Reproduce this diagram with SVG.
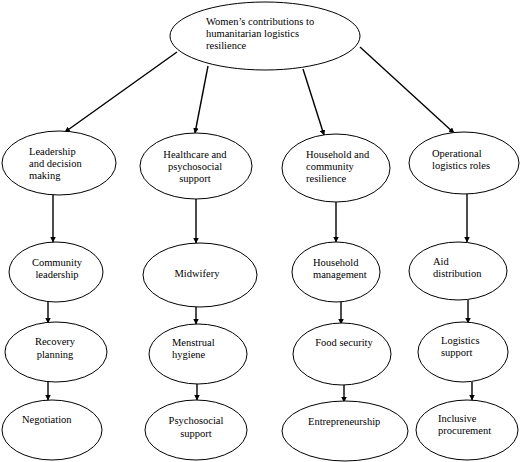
<svg xmlns="http://www.w3.org/2000/svg" width="520" height="462" viewBox="0 0 520 462">
<style>
  .node ellipse { fill: #ffffff; stroke: #000000; stroke-width: 1; }
  .node text { font-family: "Liberation Serif", "Times New Roman", serif; font-size: 10.5px; fill: #000000; }
  .c { text-anchor: middle; }
  #connectors line { stroke: #000000; stroke-width: 1.4; marker-end: url(#arrow); }
</style>
<defs>
  <marker id="arrow" viewBox="0 0 10 10" refX="9" refY="5" markerWidth="4" markerHeight="4" markerUnits="strokeWidth" orient="auto">
    <path d="M0,0 L10,5 L0,10 z" fill="#000000"/>
  </marker>
</defs>
<rect width="520" height="462" fill="#ffffff"/>
<g id="connectors">
  <line x1="177" y1="52" x2="65" y2="132"/>
  <line x1="208" y1="66" x2="195" y2="133"/>
  <line x1="303" y1="69" x2="324" y2="135"/>
  <line x1="360" y1="47" x2="454" y2="133"/>
  <line x1="53" y1="195" x2="53" y2="242"/>
  <line x1="196" y1="199" x2="196" y2="243"/>
  <line x1="336" y1="202" x2="336" y2="242"/>
  <line x1="467" y1="194" x2="467" y2="242"/>
  <line x1="48" y1="302" x2="48" y2="323"/>
  <line x1="196" y1="307" x2="196" y2="324"/>
  <line x1="341" y1="302" x2="341" y2="324"/>
  <line x1="468" y1="300" x2="468" y2="323"/>
  <line x1="48" y1="382" x2="48" y2="400"/>
  <line x1="197" y1="383" x2="197" y2="400"/>
  <line x1="344" y1="385" x2="344" y2="402"/>
  <line x1="472" y1="382" x2="472" y2="400"/>
</g>
<g id="root" class="node">
  <ellipse cx="265" cy="36" rx="95" ry="34"/>
  <text x="206" y="25">Women’s contributions to</text>
  <text x="206" y="37">humanitarian logistics</text>
  <text x="206" y="49">resilience</text>
</g>
<g id="leadership" class="node">
  <ellipse cx="59" cy="163" rx="57" ry="32"/>
  <text x="29" y="155">Leadership</text>
  <text x="29" y="167">and decision</text>
  <text x="29" y="179">making</text>
</g>
<g id="healthcare" class="node">
  <ellipse cx="196" cy="166" rx="56" ry="33"/>
  <text class="c" x="195" y="158">Healthcare and</text>
  <text class="c" x="195" y="170">psychosocial</text>
  <text class="c" x="195" y="182">support</text>
</g>
<g id="household" class="node">
  <ellipse cx="336" cy="168" rx="54" ry="34"/>
  <text x="306" y="158">Household and</text>
  <text x="306" y="170">community</text>
  <text x="306" y="182">resilience</text>
</g>
<g id="operational" class="node">
  <ellipse cx="464" cy="163" rx="55" ry="31"/>
  <text x="432" y="157">Operational</text>
  <text x="432" y="169">logistics roles</text>
</g>
<g id="community-leadership" class="node">
  <ellipse cx="56" cy="272" rx="47" ry="30"/>
  <text class="c" x="57" y="266">Community</text>
  <text class="c" x="57" y="278">leadership</text>
</g>
<g id="midwifery" class="node">
  <ellipse cx="200" cy="275" rx="57" ry="32"/>
  <text class="c" x="197" y="277">Midwifery</text>
</g>
<g id="household-management" class="node">
  <ellipse cx="336" cy="272" rx="44" ry="30"/>
  <text x="313" y="266">Household</text>
  <text x="313" y="278">management</text>
</g>
<g id="aid-distribution" class="node">
  <ellipse cx="458" cy="271" rx="49" ry="29"/>
  <text x="433" y="265">Aid</text>
  <text x="433" y="277">distribution</text>
</g>
<g id="recovery-planning" class="node">
  <ellipse cx="56" cy="352" rx="51" ry="30"/>
  <text class="c" x="55" y="345">Recovery</text>
  <text class="c" x="55" y="358">planning</text>
</g>
<g id="menstrual-hygiene" class="node">
  <ellipse cx="198" cy="354" rx="49" ry="30"/>
  <text x="172" y="346">Menstrual</text>
  <text x="172" y="358">hygiene</text>
</g>
<g id="food-security" class="node">
  <ellipse cx="342" cy="354" rx="49" ry="31"/>
  <text class="c" x="344" y="346">Food security</text>
</g>
<g id="logistics-support" class="node">
  <ellipse cx="463" cy="352" rx="45" ry="30"/>
  <text x="441" y="344">Logistics</text>
  <text x="441" y="356">support</text>
</g>
<g id="negotiation" class="node">
  <ellipse cx="52" cy="430" rx="50" ry="30"/>
  <text x="22" y="423">Negotiation</text>
</g>
<g id="psychosocial-support" class="node">
  <ellipse cx="196" cy="430" rx="51" ry="30"/>
  <text class="c" x="196" y="424">Psychosocial</text>
  <text class="c" x="196" y="437">support</text>
</g>
<g id="entrepreneurship" class="node">
  <ellipse cx="345" cy="431" rx="63" ry="30"/>
  <text x="308" y="425">Entrepreneurship</text>
</g>
<g id="inclusive-procurement" class="node">
  <ellipse cx="467" cy="430" rx="51" ry="30"/>
  <text x="438" y="422">Inclusive</text>
  <text x="438" y="434">procurement</text>
</g>
</svg>
